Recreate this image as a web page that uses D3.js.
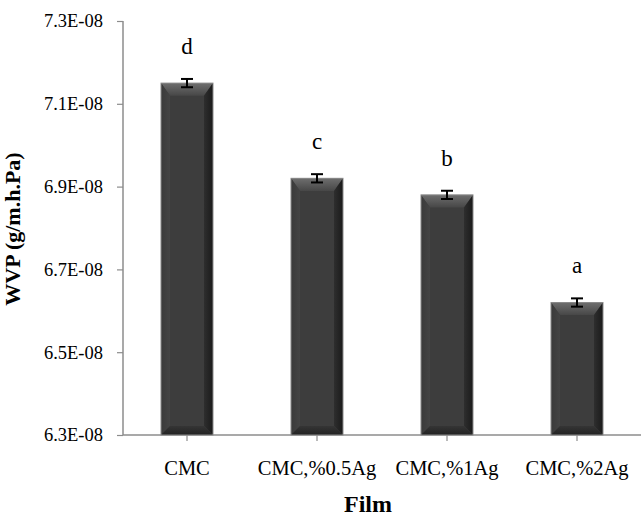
<!DOCTYPE html>
<html>
<head>
<meta charset="utf-8">
<script src="https://cdn.jsdelivr.net/npm/d3@7"></script>
<style>
  html, body { margin: 0; padding: 0; background: #fff; overflow: hidden; }
  svg { display: block; }
</style>
</head>
<body>
<svg id="chart" width="641" height="519"></svg>
<script>
// ---- data ----
const categories = ["CMC", "CMC,%0.5Ag", "CMC,%1Ag", "CMC,%2Ag"];
const wvpValues = [7.15e-8, 6.92e-8, 6.88e-8, 6.62e-8];
const wvpErrors = [0.01e-8, 0.01e-8, 0.01e-8, 0.01e-8];
const groupLetters = ["d", "c", "b", "a"];
const yTickValues = [6.3e-8, 6.5e-8, 6.7e-8, 6.9e-8, 7.1e-8, 7.3e-8];
const xTitle = "Film";
const yTitle = "WVP (g/m.h.Pa)";

// ---- layout ----
const W = 641, H = 519;
const plot = { left: 123, right: 642, top: 21, bottom: 435 };
const svg = d3.select("#chart");
const serif = "'Liberation Serif', 'Times New Roman', serif";

const x = d3.scaleBand().domain(categories).range([plot.left - 1, plot.right])
  .paddingInner(0.6).paddingOuter(0.3);
const y = d3.scaleLinear().domain([6.3e-8, 7.3e-8]).range([plot.bottom, plot.top]);

const fmt = v => (v / 1e-8).toFixed(1) + "E-08";

// gradients
const defs = svg.append("defs");
const gTop = defs.append("linearGradient").attr("id", "gTop").attr("x1", 0).attr("y1", 0).attr("x2", 0).attr("y2", 1);
gTop.append("stop").attr("offset", "0%").attr("stop-color", "#6e6e6e");
gTop.append("stop").attr("offset", "100%").attr("stop-color", "#474747");
const gRight = defs.append("linearGradient").attr("id", "gRight").attr("x1", 0).attr("y1", 0).attr("x2", 1).attr("y2", 0);
gRight.append("stop").attr("offset", "0%").attr("stop-color", "#2e2e2e");
gRight.append("stop").attr("offset", "100%").attr("stop-color", "#1a1a1a");
const gLeft = defs.append("linearGradient").attr("id", "gLeft").attr("x1", 0).attr("y1", 0).attr("x2", 1).attr("y2", 0);
gLeft.append("stop").attr("offset", "0%").attr("stop-color", "#3a3a3a");
gLeft.append("stop").attr("offset", "100%").attr("stop-color", "#444444");
const gBot = defs.append("linearGradient").attr("id", "gBot").attr("x1", 0).attr("y1", 0).attr("x2", 0).attr("y2", 1);
gBot.append("stop").attr("offset", "0%").attr("stop-color", "#353535");
gBot.append("stop").attr("offset", "100%").attr("stop-color", "#222222");

// ---- axes ----
const yAxis = d3.axisLeft(y).tickValues(yTickValues).tickFormat(fmt).tickSize(6).tickPadding(14);
const gy = svg.append("g").attr("transform", `translate(${plot.left},0)`).call(yAxis);
gy.attr("font-family", serif);
gy.select(".domain").attr("stroke", "#8c8c8c").attr("stroke-width", 1.5)
  .attr("d", `M0,${plot.top}V${plot.bottom}`);
gy.selectAll(".tick line").attr("stroke", "#8c8c8c").attr("stroke-width", 1.2);
gy.selectAll(".tick text").attr("font-family", serif).attr("font-size", "18.5px").attr("fill", "#000");

const xAxis = d3.axisBottom(x).tickSize(6).tickPadding(15);
const gx = svg.append("g").attr("transform", `translate(0,${plot.bottom})`).call(xAxis);
gx.attr("font-family", serif);
gx.select(".domain").attr("stroke", "#8c8c8c").attr("stroke-width", 1.5)
  .attr("d", `M${plot.left},0H${W}`);
gx.selectAll(".tick line").attr("stroke", "#8c8c8c").attr("stroke-width", 1.2);
gx.selectAll(".tick text").attr("font-family", serif).attr("font-size", "20.5px").attr("fill", "#000")
  .attr("dy", "0.95em");

// ---- bars ----
const bevel = 9;
const bars = svg.append("g").selectAll("g.bar").data(categories).join("g").attr("class", "bar");
bars.each(function(c, i) {
  const g = d3.select(this);
  const x0 = x(c), x1 = x(c) + x.bandwidth();
  const y0 = y(wvpValues[i]), y1 = y(6.3e-8);
  const b = Math.min(bevel, (y1 - y0) / 2);
  g.append("rect").attr("x", x0).attr("y", y0).attr("width", x1 - x0).attr("height", y1 - y0)
    .attr("fill", "#3d3d3d");
  g.append("polygon").attr("points", [[x0, y0], [x1, y0], [x1 - b, y0 + b * 1.4], [x0 + b, y0 + b * 1.4]].join(" "))
    .attr("fill", "url(#gTop)");
  g.append("polygon").attr("points", [[x1, y0], [x1, y1], [x1 - b, y1 - b], [x1 - b, y0 + b * 1.4]].join(" "))
    .attr("fill", "url(#gRight)");
  g.append("polygon").attr("points", [[x0, y0], [x0 + b, y0 + b * 1.4], [x0 + b, y1 - b], [x0, y1]].join(" "))
    .attr("fill", "url(#gLeft)");
  g.append("polygon").attr("points", [[x0, y1], [x0 + b, y1 - b], [x1 - b, y1 - b], [x1, y1]].join(" "))
    .attr("fill", "url(#gBot)");
  g.append("rect").attr("x", x0).attr("y", y0).attr("width", x1 - x0).attr("height", y1 - y0)
    .attr("fill", "none").attr("stroke", "#8a8a8a").attr("stroke-width", 1);
});

// ---- error bars ----
const err = svg.append("g").attr("stroke", "#000").attr("stroke-width", 2);
categories.forEach((c, i) => {
  const cx = x(c) + x.bandwidth() / 2;
  const yt = y(wvpValues[i] + wvpErrors[i]), yb = y(wvpValues[i] - wvpErrors[i]);
  err.append("line").attr("x1", cx).attr("x2", cx).attr("y1", yt).attr("y2", yb);
  err.append("line").attr("x1", cx - 6).attr("x2", cx + 6).attr("y1", yt).attr("y2", yt);
  err.append("line").attr("x1", cx - 6).attr("x2", cx + 6).attr("y1", yb).attr("y2", yb);
});

// ---- letters ----
svg.append("g").selectAll("text").data(categories).join("text")
  .attr("x", c => x(c) + x.bandwidth() / 2)
  .attr("y", (c, i) => y(wvpValues[i] + wvpErrors[i]) - 25)
  .attr("text-anchor", "middle")
  .attr("font-family", serif).attr("font-size", "23px").attr("fill", "#000")
  .text((c, i) => groupLetters[i]);

// ---- titles ----
svg.append("text").attr("x", 368).attr("y", 512).attr("text-anchor", "middle")
  .attr("font-family", serif).attr("font-weight", "bold").attr("font-size", "24px").text(xTitle);

svg.append("text").attr("transform", `translate(20,229) rotate(-90)`).attr("text-anchor", "middle")
  .attr("font-family", serif).attr("font-weight", "bold").attr("font-size", "22px").text(yTitle);
</script>
</body>
</html>
